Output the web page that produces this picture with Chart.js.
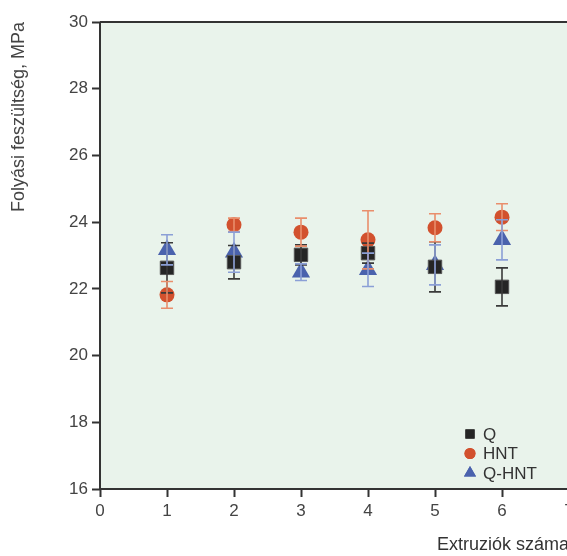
<!DOCTYPE html>
<html>
<head>
<meta charset="utf-8">
<script src="https://cdn.jsdelivr.net/npm/chart.js@4/dist/chart.umd.min.js"></script>
<style>
  html, body { margin: 0; padding: 0; background: #fff; overflow: hidden; }
  #wrap { width: 620px; height: 556px; }
</style>
</head>
<body>
<div id="wrap"><canvas id="chart" width="620" height="556"></canvas></div>
<script>
// Data
const extrusions = [1, 2, 3, 4, 5, 6];
const qValues = [22.63, 22.80, 23.02, 23.07, 22.66, 22.06];
const qErrors = [0.75, 0.50, 0.30, 0.30, 0.75, 0.57];
const hntValues = [21.82, 23.92, 23.70, 23.47, 23.83, 24.15];
const hntErrors = [0.40, 0.20, 0.42, 0.87, 0.42, 0.40];
const qhntValues = [23.17, 23.10, 22.50, 22.57, 22.72, 23.47];
const qhntErrors = [0.45, 0.60, 0.25, 0.50, 0.60, 0.60];
const seriesLabels = ['Q', 'HNT', 'Q-HNT'];

const FONT = "'Liberation Sans', Arial, sans-serif";

function toPoints(values) {
    return extrusions.map((x, i) => ({ x: x, y: values[i] }));
}

// Plot area background + frame
const plotBackground = {
    id: 'plotBackground',
    beforeDraw(chart) {
        const { ctx, chartArea: a } = chart;
        ctx.save();
        ctx.fillStyle = '#e9f3eb';
        ctx.fillRect(a.left, a.top, a.right - a.left, a.bottom - a.top);
        ctx.strokeStyle = '#b9c2bb';
        ctx.lineWidth = 1;
        ctx.strokeRect(a.left, a.top, a.right - a.left, a.bottom - a.top);
        ctx.restore();
    },
    afterDraw(chart) {
        const { ctx, chartArea: a } = chart;
        ctx.save();
        ctx.strokeStyle = '#333';
        ctx.lineWidth = 2;
        ctx.beginPath();
        ctx.moveTo(a.left, a.top);
        ctx.lineTo(a.left, a.bottom);
        ctx.lineTo(a.right, a.bottom);
        ctx.moveTo(a.left, a.top);
        ctx.lineTo(a.right, a.top);
        ctx.stroke();
        ctx.restore();
    }
};

// Vertical error bars with caps
const errorBars = {
    id: 'errorBars',
    afterDatasetsDraw(chart) {
        const { ctx } = chart;
        const yScale = chart.scales.y;
        ctx.save();
        chart.data.datasets.forEach((ds, di) => {
            const meta = chart.getDatasetMeta(di);
            ctx.strokeStyle = ds.errorColor;
            ctx.lineWidth = 1.6;
            meta.data.forEach((pt, i) => {
                const v = ds.data[i].y;
                const e = ds.errors[i];
                const yTop = yScale.getPixelForValue(v + e);
                const yBot = yScale.getPixelForValue(v - e);
                ctx.beginPath();
                ctx.moveTo(pt.x, yTop);
                ctx.lineTo(pt.x, yBot);
                ctx.moveTo(pt.x - 6, yTop);
                ctx.lineTo(pt.x + 6, yTop);
                ctx.moveTo(pt.x - 6, yBot);
                ctx.lineTo(pt.x + 6, yBot);
                ctx.stroke();
            });
        });
        ctx.restore();
    }
};

// Legend inside the plot, bottom right
const innerLegend = {
    id: 'innerLegend',
    afterDraw(chart) {
        const { ctx, chartArea: a } = chart;
        ctx.save();
        ctx.font = '17px ' + FONT;
        ctx.textBaseline = 'middle';
        chart.data.datasets.forEach((ds, i) => {
            const cx = a.left + 370;
            const cy = a.bottom - 55 + i * 19.5;
            ctx.fillStyle = ds.backgroundColor;
            Chart.helpers.drawPoint(ctx, {
                pointStyle: ds.pointStyle,
                radius: ds.legendRadius,
                rotation: 0,
                borderWidth: 0
            }, cx, cy);
            ctx.fill();
            ctx.fillStyle = '#333';
            ctx.fillText(ds.label, cx + 13, cy + 1);
        });
        ctx.restore();
    }
};

new Chart(document.getElementById('chart'), {
    type: 'scatter',
    data: {
        datasets: [{
            label: seriesLabels[0],
            data: toPoints(qValues),
            errors: qErrors,
            errorColor: '#3a3a3a',
            pointStyle: 'rect',
            pointRadius: 9.5,
            legendRadius: 6.5,
            backgroundColor: '#252525',
            borderColor: '#555',
            borderWidth: 1
        }, {
            label: seriesLabels[1],
            data: toPoints(hntValues),
            errors: hntErrors,
            errorColor: '#e98e6c',
            pointStyle: 'circle',
            pointRadius: 7.5,
            legendRadius: 5.5,
            backgroundColor: '#d2512e',
            borderColor: '#d2512e',
            borderWidth: 0
        }, {
            label: seriesLabels[2],
            data: toPoints(qhntValues),
            errors: qhntErrors,
            errorColor: '#8b9fd6',
            pointStyle: 'triangle',
            pointRadius: 10.5,
            legendRadius: 7,
            backgroundColor: '#4a62ad',
            borderColor: '#4a62ad',
            borderWidth: 0
        }]
    },
    options: {
        responsive: false,
        animation: false,
        events: [],
        layout: { padding: { top: 22, left: 8, right: 51, bottom: 0 } },
        plugins: {
            legend: { display: false },
            tooltip: { enabled: false }
        },
        scales: {
            x: {
                type: 'linear',
                min: 0,
                max: 7,
                grid: { display: true, drawOnChartArea: false, drawTicks: true, tickLength: 8, tickColor: '#333', tickWidth: 2 },
                border: { display: false },
                ticks: { stepSize: 1, color: '#444', font: { family: FONT, size: 17 }, padding: 4 },
                title: {
                    display: true,
                    text: 'Extruziók száma',
                    align: 'end',
                    color: '#333',
                    font: { family: FONT, size: 18 },
                    padding: { top: 20, bottom: 0 }
                },
                afterFit(scale) { scale.height = 67; }
            },
            y: {
                min: 16,
                max: 30,
                grid: { display: true, drawOnChartArea: false, drawTicks: true, tickLength: 8, tickColor: '#333', tickWidth: 2 },
                border: { display: false },
                ticks: { stepSize: 2, color: '#444', font: { family: FONT, size: 17 }, padding: 4 },
                title: {
                    display: true,
                    text: 'Folyási feszültség, MPa',
                    align: 'end',
                    color: '#444',
                    font: { family: FONT, size: 18 },
                    padding: { top: 0, bottom: 0 }
                },
                afterFit(scale) { scale.width = 92; }
            }
        }
    },
    plugins: [plotBackground, errorBars, innerLegend]
});
</script>
</body>
</html>
